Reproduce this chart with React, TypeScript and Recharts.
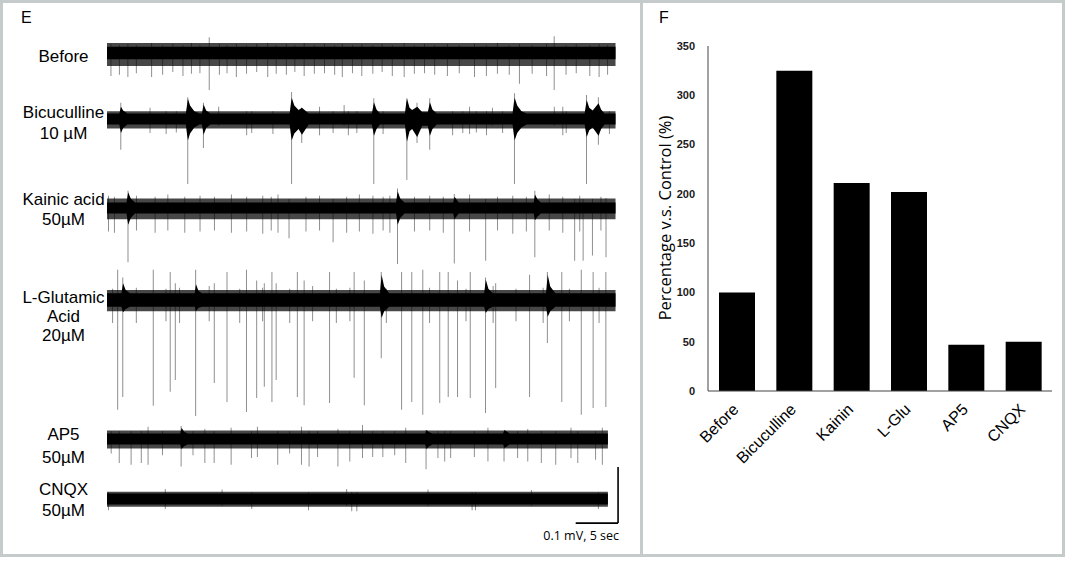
import { Area, Bar, BarChart, ComposedChart, ReferenceLine, XAxis, YAxis } from 'recharts';
import type { ReactNode } from 'react';

// ---- panel F: firing rate vs control ----
const categories = ['Before', 'Bicuculline', 'Kainin', 'L-Glu', 'AP5', 'CNQX'];
const percentVsControl = [100, 325, 211, 202, 47, 50];
const yTicks = [0, 50, 100, 150, 200, 250, 300, 350];

// ---- panel E: traces, [seconds, low µV, high µV] ----
type Sample = [number, number, number];

const beforeBand: Sample[] = [[0, -11, 11], [60, -11, 11]];
const beforeFringe: Sample[] = [[0, -23, 18], [60, -23, 18]];
const beforeSpikes: Sample[] = [
  [0.5, -41, 16], [1.5, -39, 14], [2.5, -43, 16], [3.5, -36, 14], [5.3, -43, 18], [6.6, -39, 14],
  [7.8, -34, 16], [9.0, -41, 14], [10.0, -37, 18], [11.0, -36, 14], [12.1, -66, 28], [13.3, -39, 16],
  [14.2, -36, 14], [15.3, -43, 16], [16.5, -37, 14], [17.7, -34, 16], [19.0, -43, 18], [20.0, -37, 14],
  [21.2, -39, 16], [22.2, -34, 14], [23.3, -41, 18], [24.5, -37, 14], [25.7, -36, 16], [26.9, -39, 14],
  [27.8, -43, 16], [29.0, -36, 14], [30.1, -41, 16], [31.4, -37, 14], [32.5, -34, 16], [33.7, -41, 14],
  [35.1, -43, 18], [36.3, -37, 14], [37.5, -36, 16], [38.7, -39, 14], [40.2, -41, 16], [41.6, -36, 14],
  [43.4, -43, 16], [44.8, -41, 14], [46.1, -37, 18], [47.5, -39, 14], [48.7, -55, 16], [50.2, -37, 14],
  [51.9, -41, 16], [52.8, -66, 30], [54.2, -39, 14], [55.4, -36, 16], [57.0, -41, 14], [58.1, -43, 16],
  [59.1, -39, 14],
];

const bicuBand: Sample[] = [
  [0, -10, 10], [1.45, -10, 10], [1.65, -25, 22], [1.9, -16, 15], [2.4, -10, 10],
  [9.3, -10, 10], [9.45, -28, 26], [9.55, -38, 36], [9.8, -26, 24], [10.3, -15, 14], [10.9, -10, 10],
  [11.2, -10, 10], [11.4, -28, 26], [11.7, -16, 15], [12.2, -10, 10],
  [21.55, -10, 10], [21.7, -28, 28], [21.8, -38, 38], [22.1, -26, 24], [22.6, -18, 16], [23.0, -28, 20], [23.8, -10, 10],
  [31.25, -10, 10], [31.5, -30, 30], [31.8, -18, 17], [32.2, -10, 10],
  [35.15, -10, 10], [35.3, -30, 28], [35.4, -40, 36], [35.7, -22, 20], [36.0, -18, 16], [36.6, -32, 22], [37.2, -12, 12],
  [37.85, -12, 12], [38.1, -30, 30], [38.4, -18, 17], [38.9, -10, 10],
  [47.85, -10, 10], [48.0, -28, 28], [48.1, -38, 38], [48.4, -25, 24], [48.9, -15, 14], [49.5, -10, 10],
  [56.35, -10, 10], [56.6, -32, 34], [56.9, -20, 20], [57.3, -15, 15], [58.0, -30, 28], [58.3, -18, 17], [58.7, -10, 10],
  [60, -10, 10],
];
const bicuFringe: Sample[] = [[0, -17, 14], [60, -17, 14]];
const bicuSpikes: Sample[] = [
  [1.65, -55, 29], [9.55, -116, 39], [11.4, -52, 29], [21.8, -116, 48], [23.0, -43, 20], [31.5, -116, 37],
  [35.4, -109, 37], [36.6, -43, 29], [38.1, -55, 37], [48.1, -116, 46], [56.6, -116, 43], [58.0, -46, 39],
  [5.1, -25, 20], [7.0, -27, 14], [8.2, -24, 14], [13.2, -12, 22], [16.5, -29, 14], [17.1, -25, 14],
  [19.6, -27, 14], [25.1, -29, 22], [26.7, -25, 14], [28.0, -12, 25], [28.5, -29, 14], [29.5, -25, 14],
  [32.6, -27, 14], [40.8, -29, 14], [42.0, -25, 14], [42.8, -27, 22], [43.6, -24, 14], [44.8, -29, 14],
  [45.5, -12, 20], [46.7, -25, 14], [52.8, -12, 22], [53.8, -29, 22], [54.2, -25, 14], [59.3, -27, 14],
];

const kainicBand: Sample[] = [
  [0, -10, 10], [2.3, -10, 10], [2.5, -30, 28], [2.8, -18, 17], [3.3, -10, 10],
  [34.1, -10, 10], [34.3, -30, 30], [34.6, -18, 17], [35.1, -10, 10],
  [40.85, -10, 10], [41.0, -20, 20], [41.5, -10, 10],
  [50.35, -10, 10], [50.5, -22, 24], [50.8, -15, 15], [51.2, -10, 10], [60, -10, 10],
];
const kainicFringe: Sample[] = [[0, -20, 17], [60, -20, 17]];
const kainicSpikes: Sample[] = [
  [2.5, -97, 31], [21.5, -54, 16], [26.7, -61, 16], [34.3, -100, 35], [41.0, -99, 25], [44.7, -94, 16],
  [50.5, -88, 31], [55.2, -94, 16], [56.2, -94, 16], [57.3, -85, 16], [58.9, -88, 18],
  [0.2, -42, 22], [0.9, -44, 20], [3.5, -40, 22], [5.7, -44, 20], [7.2, -40, 24], [9.2, -44, 20],
  [11.0, -42, 22], [12.7, -40, 20], [14.7, -44, 24], [16.5, -42, 20], [18.4, -46, 22], [19.4, -40, 20],
  [20.2, -44, 24], [23.5, -42, 20], [25.1, -40, 22], [28.3, -44, 20], [29.8, -42, 24], [31.4, -46, 22],
  [32.6, -40, 20], [33.4, -44, 22], [36.3, -42, 20], [38.1, -40, 22], [39.7, -44, 20], [42.8, -42, 24],
  [46.1, -40, 20], [47.9, -46, 22], [49.5, -42, 20], [52.2, -40, 24], [53.8, -44, 20], [55.8, -42, 22],
  [58.3, -40, 20],
];

const gluBand: Sample[] = [
  [0, -12, 12], [1.7, -12, 12], [1.9, -22, 30], [2.2, -16, 18], [2.7, -12, 12],
  [10.35, -12, 12], [10.5, -20, 28], [10.8, -14, 16], [11.2, -12, 12],
  [32.2, -12, 12], [32.4, -32, 45], [32.7, -20, 24], [33.3, -12, 12],
  [44.5, -12, 12], [44.7, -23, 36], [45.0, -16, 20], [45.5, -12, 12],
  [51.8, -12, 12], [52.0, -30, 45], [52.3, -20, 24], [52.9, -12, 12], [60, -12, 12],
];
const gluFringe: Sample[] = [[0, -20, 18], [60, -20, 18]];
const gluSpikes: Sample[] = [
  [1.3, -196, 54], [1.9, -173, 40], [5.5, -189, 54], [7.5, -164, 50], [8.1, -143, 30], [10.5, -207, 54],
  [12.7, -148, 30], [14.2, -182, 50], [16.5, -200, 54], [17.7, -175, 35], [18.6, -155, 30], [19.5, -182, 50],
  [20.0, -143, 30], [22.5, -173, 50], [23.3, -188, 35], [26.3, -184, 50], [29.2, -139, 50], [30.4, -188, 35],
  [32.4, -104, 50], [34.8, -196, 50], [36.0, -182, 50], [37.3, -205, 54], [39.3, -184, 50], [40.3, -173, 50],
  [41.4, -173, 35], [42.9, -175, 50], [44.7, -202, 40], [45.9, -157, 30], [49.9, -173, 45], [52.0, -77, 50],
  [53.7, -182, 50], [56.0, -205, 54], [57.4, -193, 50], [58.9, -191, 50],
  [0.7, -41, 20], [3.5, -41, 22], [7.0, -38, 20], [8.6, -41, 22], [12.1, -38, 25], [15.7, -41, 20],
  [18.4, -38, 22], [21.6, -41, 20], [24.3, -38, 25], [27.1, -41, 20], [28.7, -38, 22], [33.0, -41, 20],
  [38.1, -41, 22], [42.4, -38, 20], [45.6, -41, 25], [48.3, -38, 20], [51.5, -41, 22], [54.6, -38, 20],
  [58.1, -41, 22],
];

const ap5Band: Sample[] = [
  [0, -10, 10], [8.65, -10, 10], [8.8, -18, 20], [9.1, -13, 13], [9.5, -10, 10],
  [37.55, -10, 10], [37.7, -18, 16], [38.0, -13, 12], [38.4, -10, 10],
  [46.75, -10, 10], [46.9, -16, 16], [47.5, -10, 10], [59.1, -10, 10],
];
const ap5Fringe: Sample[] = [[0, -17, 15], [59.1, -17, 15]];
const ap5Spikes: Sample[] = [
  [0.55, -26, 14], [1.5, -43, 14], [2.9, -46, 14], [4.1, -43, 14], [4.9, -46, 22], [6.6, -29, 14],
  [8.8, -49, 23], [10.2, -29, 14], [11.6, -43, 18], [12.7, -43, 14], [14.7, -46, 20], [17.1, -34, 14],
  [17.8, -32, 22], [20.2, -46, 14], [21.6, -26, 14], [23.0, -46, 22], [23.9, -49, 14], [24.9, -32, 14],
  [27.3, -49, 18], [28.7, -40, 14], [30.2, -34, 25], [31.4, -32, 14], [32.6, -32, 14], [34.0, -29, 14],
  [35.3, -43, 20], [37.7, -54, 16], [39.1, -34, 14], [39.9, -40, 14], [40.6, -34, 14], [43.4, -32, 14],
  [45.0, -40, 20], [46.9, -40, 14], [48.5, -34, 14], [49.7, -40, 18], [51.3, -43, 14], [53.0, -46, 14],
  [54.8, -34, 20], [55.6, -43, 14], [57.7, -37, 14], [58.5, -46, 20],
];

const cnqxBand: Sample[] = [[0, -10, 10], [59.1, -10, 10]];
const cnqxFringe: Sample[] = [[0, -14, 13], [59.1, -14, 13]];
const cnqxSpikes: Sample[] = [
  [0.2, -20, 12], [6.9, -18, 18], [13.6, -12, 17], [17.1, -18, 12], [23.8, -20, 12], [28.3, -12, 18],
  [28.9, -22, 12], [29.5, -22, 12], [37.9, -12, 17], [43.1, -20, 12], [43.5, -20, 12], [50.1, -12, 16],
  [58.0, -18, 12],
];

const scaleBarSec = 5;
const scaleBarMicroV = 100;

const SANS = '"Liberation Sans", Arial, sans-serif';
const TRACE_W = 517;
const TRACE_H = 196;
const NO_MARGIN = { top: 0, right: 0, bottom: 0, left: 0 };

const toRows = (s: Sample[]) => s.map(([t, lo, hi]) => ({ t, range: [lo, hi] }));

function Trace({ top, band, fringe, spikes, children }: {
  top: number; band: Sample[]; fringe: Sample[]; spikes: Sample[]; children?: ReactNode;
}) {
  const layer = { position: 'absolute' as const, left: 0, top: 0 };
  return (
    <div style={{ position: 'absolute', left: 107, top, width: TRACE_W, height: TRACE_H }}>
      {/* spikes sit underneath the noise band */}
      <div style={layer}>
        <ComposedChart width={TRACE_W} height={TRACE_H} data={toRows(spikes)} margin={NO_MARGIN}>
          <XAxis dataKey="t" type="number" domain={[0, 61]} hide allowDataOverflow />
          <YAxis type="number" domain={[-250, 100]} hide allowDataOverflow />
          <Bar dataKey="range" barSize={1} fill="#8f8f8f" isAnimationActive={false} />
        </ComposedChart>
      </div>
      <div style={layer}>
        <ComposedChart width={TRACE_W} height={TRACE_H} data={toRows(band)} margin={NO_MARGIN}>
          <XAxis dataKey="t" type="number" domain={[0, 61]} hide allowDataOverflow />
          <YAxis type="number" domain={[-250, 100]} hide allowDataOverflow />
          <Area data={toRows(fringe)} dataKey="range" type="linear" stroke="none" fill="#000" fillOpacity={0.72} isAnimationActive={false} />
          <Area dataKey="range" type="linear" stroke="none" fill="#000" fillOpacity={1} isAnimationActive={false} />
          {children}
        </ComposedChart>
      </div>
    </div>
  );
}

function SlantTick({ x, y, payload }: any) {
  const ax = x + 3;
  const ay = y + 11.5;
  return (
    <text x={ax} y={ay} textAnchor="end" fontSize={16} fontFamily={SANS} fill="#000" transform={`rotate(-45, ${ax}, ${ay})`}>
      {payload.value}
    </text>
  );
}

const labelLines: [string, number][] = [
  ['Before', 57], ['Bicuculline', 112.3], ['10 µM', 133.5], ['Kainic acid', 200], ['50µM', 220],
  ['L-Glutamic', 298], ['Acid', 317], ['20µM', 336], ['AP5', 435], ['50µM', 458], ['CNQX', 490], ['50µM', 511],
];

export default function App() {
  const barRows = categories.map((name, i) => ({ name, value: percentVsControl[i] }));
  const frame = '#c5caca';

  return (
    <div style={{ position: 'absolute', left: 0, top: 0, width: 1069, height: 561, background: '#fff', fontFamily: SANS, color: '#000' }}>
      <div style={{ position: 'absolute', left: 0, top: 0, width: 1065, height: 557, boxSizing: 'border-box', border: `3px solid ${frame}` }} />
      <div style={{ position: 'absolute', left: 640, top: 0, width: 3, height: 557, background: frame }} />

      <div style={{ position: 'absolute', left: 21, top: 7.5, fontSize: 16, lineHeight: '20px' }}>E</div>
      <div style={{ position: 'absolute', left: 659, top: 8, fontSize: 16, lineHeight: '20px' }}>F</div>

      {labelLines.map(([txt, cy], i) => (
        <div key={i} style={{ position: 'absolute', left: 3, width: 121, top: cy - 9.8, textAlign: 'center', fontSize: 17, lineHeight: '20px', whiteSpace: 'nowrap' }}>
          {txt}
        </div>
      ))}

      <Trace top={53 - 56} band={beforeBand} fringe={beforeFringe} spikes={beforeSpikes} />
      <Trace top={119 - 56} band={bicuBand} fringe={bicuFringe} spikes={bicuSpikes} />
      <Trace top={207.5 - 56} band={kainicBand} fringe={kainicFringe} spikes={kainicSpikes} />
      <Trace top={300 - 56} band={gluBand} fringe={gluFringe} spikes={gluSpikes} />
      <Trace top={439 - 56} band={ap5Band} fringe={ap5Fringe} spikes={ap5Spikes} />
      <Trace top={499 - 56} band={cnqxBand} fringe={cnqxFringe} spikes={cnqxSpikes}>
        <ReferenceLine
          segment={[{ x: 60.3 - scaleBarSec, y: -43 }, { x: 60.3, y: -43 }]}
          stroke="#000" strokeWidth={1.6} ifOverflow="visible"
        />
        <ReferenceLine
          segment={[{ x: 60.3, y: -43 }, { x: 60.3, y: -43 + scaleBarMicroV }]}
          stroke="#000" strokeWidth={1.6} ifOverflow="visible"
        />
      </Trace>
      <div style={{ position: 'absolute', right: 1069 - 619, top: 528, fontFamily: '"Open Sans", sans-serif', fontSize: 12.5, lineHeight: '16px', whiteSpace: 'nowrap' }}>
        0.1 mV, 5 sec
      </div>

      <div style={{ position: 'absolute', left: 650, top: 30 }}>
        <BarChart width={410} height={500} data={barRows} margin={{ top: 16, right: 8, left: 0, bottom: 0 }}>
          <XAxis dataKey="name" interval={0} height={139} tickLine={false} axisLine={{ stroke: '#444' }} tick={<SlantTick />} />
          <XAxis xAxisId="top" dataKey="name" orientation="top" height={0} tick={false} tickLine={false} axisLine={{ stroke: '#444' }} />
          <YAxis
            domain={[0, 350]}
            ticks={yTicks}
            width={58}
            tickLine={false}
            tickMargin={7}
            axisLine={{ stroke: '#444' }}
            tick={{ fontSize: 11, fontWeight: 'bold', fill: '#1a1a1a', fontFamily: SANS }}
          />
          <YAxis yAxisId="right" orientation="right" width={0} tick={false} tickLine={false} axisLine={{ stroke: '#444' }} />
          <Bar dataKey="value" fill="#000" barSize={36} isAnimationActive={false} />
        </BarChart>
      </div>
      <div
        style={{
          position: 'absolute', left: 665, top: 218, transform: 'translate(-50%, -50%) rotate(-90deg)',
          fontFamily: '"Open Sans", sans-serif', fontSize: 16.5, whiteSpace: 'nowrap', lineHeight: '20px',
        }}
      >
        Percentage v.s. Control (%)
      </div>
    </div>
  );
}
